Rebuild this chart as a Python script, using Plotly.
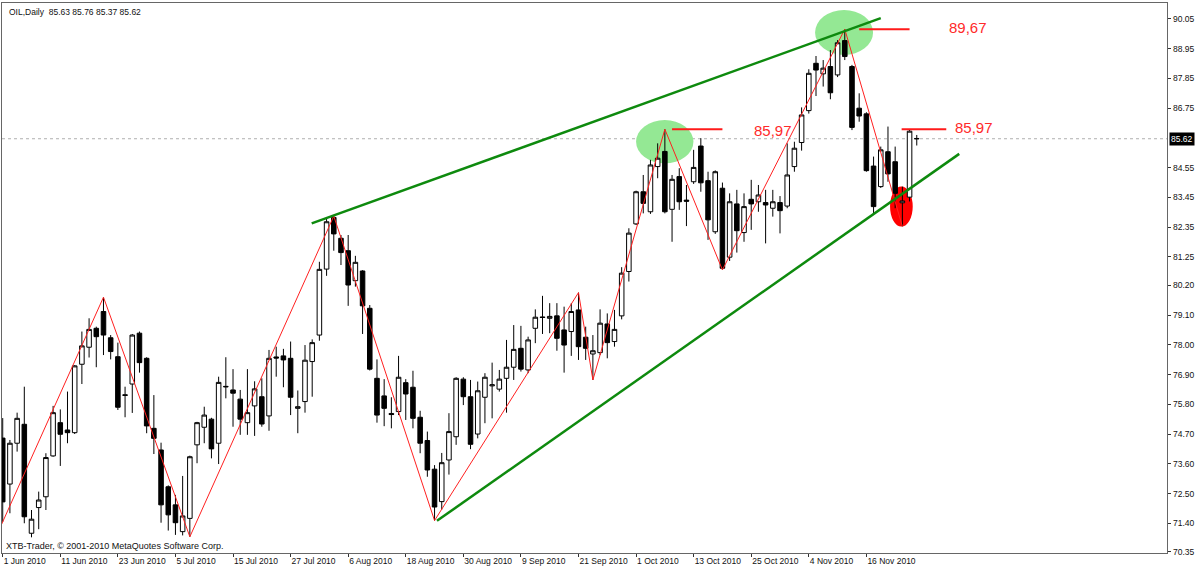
import pandas as pd
import plotly.graph_objects as go

# ---------------- data ----------------
opens = [74.55, 72.85, 74.36, 75.06, 71.03, 71.98, 72.38, 73.89, 75.12, 74.85,
         74.75, 77.28, 77.91, 78.61, 79.23, 78.26, 77.56, 76.15, 76.55, 78.43,
         77.50, 74.91, 74.11, 72.75, 72.08, 71.09, 71.58, 74.30, 74.95, 75.25,
         74.36, 76.44, 76.33, 75.99, 75.12, 75.74, 76.08, 75.37, 77.55, 77.59,
         77.50, 75.65, 75.90, 77.38, 78.36, 80.80, 82.71, 81.94, 81.48, 80.37,
         80.73, 79.35, 76.76, 76.11, 75.46, 75.53, 76.60, 76.43, 75.32, 74.46,
         73.40, 72.20, 73.74, 74.60, 76.73, 76.08, 74.70, 76.06, 76.48, 76.36,
         76.76, 77.17, 77.87, 77.07, 78.61, 79.03, 78.98, 79.07, 78.55, 78.49,
         79.29, 78.28, 77.66, 77.71, 78.77, 78.12, 79.07, 80.71, 82.47, 83.66,
         82.92, 84.59, 85.15, 83.01, 84.22, 83.35, 84.03, 85.35, 84.07, 82.18,
         83.79, 81.24, 83.21, 82.15, 83.38, 83.29, 83.26, 83.05, 83.26, 83.13,
         84.59, 85.48, 86.66, 88.41, 88.02, 88.29, 87.98, 89.25, 88.29, 86.75,
         86.54, 84.61, 83.85, 85.14, 84.77, 83.25, 83.46, 85.63]
highs = [75.29, 74.48, 75.49, 76.45, 71.89, 72.57, 73.99, 75.74, 75.61, 76.27,
         77.25, 78.49, 78.98, 78.67, 79.76, 78.36, 78.08, 76.45, 78.40, 78.49,
         77.54, 76.14, 74.38, 72.80, 72.45, 73.15, 73.90, 75.15, 75.71, 75.30,
         76.82, 77.54, 77.10, 76.33, 77.10, 76.65, 76.76, 77.81, 77.93, 77.85,
         78.12, 76.31, 77.99, 78.20, 81.07, 82.68, 82.76, 82.06, 82.06, 81.29,
         80.76, 79.47, 77.46, 76.73, 76.06, 77.59, 76.73, 77.04, 75.56, 74.79,
         73.55, 74.00, 75.47, 76.80, 76.80, 76.70, 76.64, 76.95, 77.34, 77.07,
         78.18, 78.73, 78.70, 78.30, 79.31, 79.81, 79.54, 79.54, 79.41, 79.54,
         79.93, 78.67, 78.36, 79.31, 79.16, 79.29, 80.87, 82.31, 83.70, 84.28,
         84.84, 85.45, 85.97, 84.28, 84.53, 83.91, 85.21, 85.64, 84.40, 84.45,
         84.00, 83.60, 83.73, 83.60, 84.10, 83.91, 83.73, 83.73, 83.50, 85.45,
         85.51, 86.78, 88.19, 88.68, 88.53, 88.90, 89.27, 89.67, 88.35, 87.30,
         86.60, 84.96, 85.33, 86.07, 85.33, 83.85, 85.97, 85.76]
lows = [71.45, 71.77, 74.05, 71.40, 70.88, 71.18, 71.89, 73.86, 73.52, 74.36,
        74.70, 76.55, 77.53, 77.17, 77.62, 77.46, 75.59, 75.32, 75.48, 76.97,
        74.73, 73.96, 71.42, 71.13, 70.97, 70.95, 70.90, 73.62, 74.36, 73.80,
        73.59, 76.02, 74.97, 74.67, 74.67, 74.63, 74.97, 74.82, 76.82, 76.43,
        75.40, 74.73, 75.49, 76.08, 78.15, 80.55, 81.48, 80.95, 79.44, 80.15,
        78.40, 77.05, 75.12, 74.99, 74.91, 75.40, 75.22, 74.91, 73.99, 73.12,
        71.50, 71.90, 73.20, 74.30, 75.77, 74.14, 74.54, 75.10, 75.28, 76.27,
        75.49, 76.70, 77.01, 76.95, 78.06, 78.40, 78.43, 77.78, 76.97, 77.59,
        77.44, 77.44, 76.70, 77.62, 77.50, 77.93, 78.94, 80.34, 82.43, 82.86,
        82.84, 84.16, 82.86, 81.81, 82.99, 82.39, 83.95, 83.66, 81.88, 82.10,
        80.77, 81.10, 81.41, 81.81, 82.25, 82.92, 81.75, 82.74, 82.12, 83.05,
        84.40, 85.18, 86.55, 87.20, 87.55, 87.08, 87.90, 88.53, 85.94, 86.25,
        84.40, 82.86, 83.80, 84.03, 83.05, 82.38, 83.30, 85.37]
closes = [72.19, 74.36, 75.28, 71.64, 71.55, 72.26, 73.83, 75.49, 74.69, 74.75,
          77.22, 77.96, 78.57, 78.30, 78.36, 77.75, 75.69, 76.13, 78.36, 77.34,
          75.00, 74.54, 72.08, 71.71, 71.42, 71.67, 73.86, 75.12, 75.40, 74.15,
          76.61, 76.46, 76.21, 75.25, 75.49, 76.37, 75.07, 77.50, 77.51, 77.44,
          76.06, 75.71, 77.43, 78.08, 80.79, 82.55, 82.10, 81.41, 80.21, 81.05,
          79.44, 77.10, 75.40, 75.65, 75.42, 76.80, 76.18, 75.28, 74.36, 73.37,
          72.00, 73.64, 74.79, 76.76, 76.08, 74.32, 76.30, 76.80, 76.52, 76.73,
          77.17, 77.83, 77.10, 78.18, 79.02, 79.01, 79.05, 78.24, 77.99, 79.23,
          77.93, 77.87, 77.78, 78.80, 78.08, 78.57, 80.65, 82.13, 83.66, 83.23,
          84.65, 84.90, 82.92, 84.12, 83.29, 83.31, 84.56, 83.99, 82.62, 84.40,
          80.83, 83.29, 82.22, 83.11, 83.21, 83.54, 83.17, 83.29, 82.96, 84.28,
          85.27, 86.50, 88.04, 88.16, 88.23, 87.32, 89.17, 88.66, 86.04, 86.46,
          84.44, 83.11, 85.21, 84.32, 83.60, 83.32, 85.90, 85.62]

dates = pd.bdate_range("2010-06-01", periods=len(opens))
bar_index = list(range(len(opens)))

# zigzag pivots (bar index, price)
zig_index = [-1, 14, 26, 46, 60, 80, 82, 92, 100, 117, 125]
zig_price = [70.86, 79.76, 70.90, 82.76, 71.50, 79.93, 76.70, 85.97, 80.77, 89.67, 82.38]

# trend lines (bar index, price)
upper_trend_x = [42.93, 122.0]
upper_trend_y = [82.49, 90.08]
lower_trend_x = [60.34, 132.9]
lower_trend_y = [71.49, 85.06]

# resistance marks
level_values = [89.67, 85.97, 85.97]
level_x0 = [119.0, 93.0, 124.9]
level_x1 = [126.0, 100.0, 131.1]
level_labels = ["89,67", "85,97", "85,97"]
label_x = [131.2, 104.1, 132.0]
label_y = [89.75, 85.91, 86.02]

# highlight ellipses: (x0, x1, y0, y1, colour)
ellipses = [
    (88.0, 95.97, 84.71, 86.31, "#94E894"),
    (112.87, 120.93, 88.72, 90.38, "#94E894"),
    (123.29, 126.44, 82.37, 83.85, "#FF0000"),
]

y_ticks = [90.05, 88.95, 87.85, 86.75, 84.55, 83.45, 82.35, 81.25, 80.20,
           79.10, 78.00, 76.90, 75.80, 74.70, 73.60, 72.50, 71.40, 70.35]
last_price = 85.62
x_tick_pos = list(range(0, 121, 8))
x_tick_text = [f"{dates[i].day} {dates[i].strftime('%b %Y')}" for i in x_tick_pos]

FONT = "Liberation Sans, Arial, sans-serif"
TXT = "#111111"

fig = go.Figure()
fig.add_trace(go.Candlestick(
    x=bar_index, open=opens, high=highs, low=lows, close=closes,
    increasing=dict(line=dict(color="black", width=1), fillcolor="white"),
    decreasing=dict(line=dict(color="black", width=1), fillcolor="black"),
    whiskerwidth=0, hoverinfo="skip", showlegend=False))
fig.add_trace(go.Scatter(x=zig_index, y=zig_price, mode="lines",
                         line=dict(color="#FF2020", width=1), hoverinfo="skip",
                         showlegend=False))

shapes = []
for x0, x1, y0, y1, col in ellipses:
    shapes.append(dict(type="circle", xref="x", yref="y", x0=x0, x1=x1, y0=y0, y1=y1,
                       fillcolor=col, line=dict(width=0), layer="below"))
shapes.append(dict(type="line", xref="paper", yref="y", x0=0, x1=1,
                   y0=last_price, y1=last_price,
                   line=dict(color="#B0B0B0", width=1, dash="dot"), layer="below"))
shapes.append(dict(type="line", xref="x", yref="y",
                   x0=upper_trend_x[0], x1=upper_trend_x[1],
                   y0=upper_trend_y[0], y1=upper_trend_y[1],
                   line=dict(color="#0E8A0E", width=2.5)))
shapes.append(dict(type="line", xref="x", yref="y",
                   x0=lower_trend_x[0], x1=lower_trend_x[1],
                   y0=lower_trend_y[0], y1=lower_trend_y[1],
                   line=dict(color="#0E8A0E", width=2.5)))
for v, a, b in zip(level_values, level_x0, level_x1):
    shapes.append(dict(type="line", xref="x", yref="y", x0=a, x1=b, y0=v, y1=v,
                       line=dict(color="#FF1A1A", width=2)))

annotations = []
for t, x, y in zip(level_labels, label_x, label_y):
    annotations.append(dict(x=x, y=y, xref="x", yref="y", text=t, showarrow=False,
                            xanchor="left", yanchor="middle",
                            font=dict(family=FONT, size=15, color="#FF2A2A")))
annotations.append(dict(x=0.004, y=0.984, xref="paper", yref="paper",
                        text="OIL,Daily  85.63 85.76 85.37 85.62", showarrow=False,
                        xanchor="left", yanchor="middle",
                        font=dict(family=FONT, size=8.5, color=TXT)))
annotations.append(dict(x=0.002, y=0.013, xref="paper", yref="paper",
                        text="XTB-Trader, © 2001-2010 MetaQuotes Software Corp.",
                        showarrow=False, xanchor="left", yanchor="middle",
                        font=dict(family=FONT, size=9, color=TXT)))
# right-hand price scale labels
for v in y_ticks:
    annotations.append(dict(x=1.0, y=v, xref="paper", yref="y", text=f"{v:.2f}",
                            showarrow=False, xanchor="left", yanchor="middle",
                            xshift=4, font=dict(family=FONT, size=8.5, color=TXT)))
annotations.append(dict(x=1.0, y=last_price, xref="paper", yref="y",
                        text=f"{last_price:.2f}", showarrow=False,
                        xanchor="left", yanchor="middle", xshift=2,
                        bgcolor="black", borderpad=1,
                        font=dict(family=FONT, size=8.5, color="white")))

fig.update_layout(
    width=1200, height=570,
    margin=dict(l=2, r=33, t=3, b=17, autoexpand=False),
    paper_bgcolor="white", plot_bgcolor="white",
    showlegend=False, boxgap=0.1, boxgroupgap=0.3,
    shapes=shapes, annotations=annotations,
    font=dict(family=FONT, size=9, color=TXT),
    xaxis=dict(range=[-0.1, 161.77], tickvals=x_tick_pos, ticktext=x_tick_text,
               ticks="outside", ticklen=3, tickcolor="#333333", tickangle=0,
               ticklabelposition="outside right", automargin=False,
               showline=True, mirror=True, linecolor="#666666", linewidth=1,
               showgrid=False, zeroline=False, rangeslider=dict(visible=False),
               tickfont=dict(family=FONT, size=8.5, color=TXT)),
    yaxis=dict(range=[70.30, 90.64], side="right", tickvals=y_ticks,
               showticklabels=False, automargin=False,
               ticks="outside", ticklen=3, tickcolor="#333333",
               showline=True, mirror=True, linecolor="#666666", linewidth=1,
               showgrid=False, zeroline=False),
)

fig.write_html("out.html", config={"displayModeBar": False},
               post_script="document.body.style.margin='0';document.body.style.overflow='hidden';")
